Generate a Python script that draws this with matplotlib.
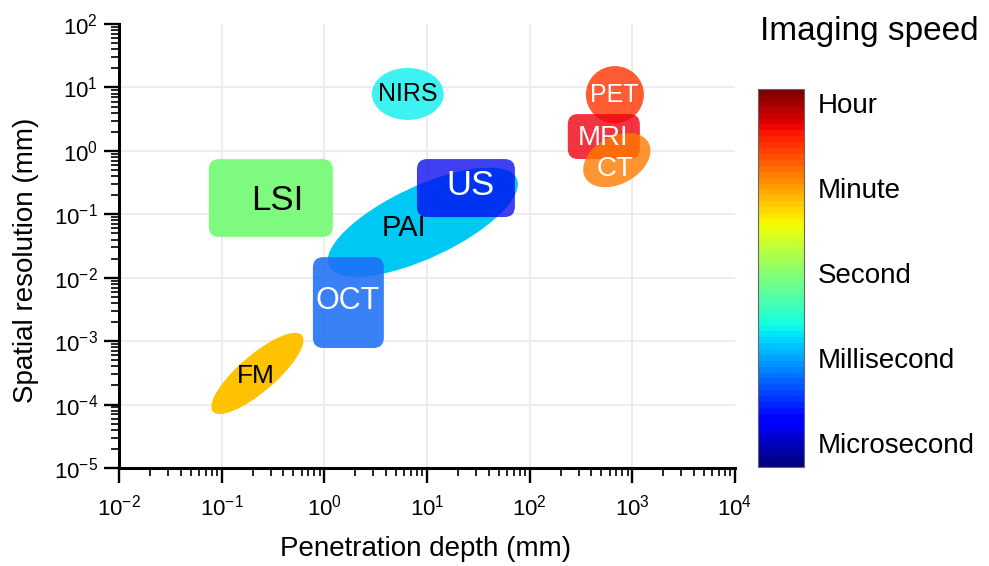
import numpy as np
import matplotlib as mpl
import matplotlib.pyplot as plt
from matplotlib.patches import Ellipse, FancyBboxPatch
from matplotlib.ticker import FixedLocator, LogLocator, LogFormatterMathtext, NullFormatter

plt.rcParams['font.family'] = ['Liberation Sans', 'DejaVu Sans']

# rectangular regions: depth range and resolution range (mm)
rect_names = ['LSI', 'OCT', 'US', 'MRI']
rect_depth_lo = [0.075, 0.774, 7.98, 235]
rect_depth_hi = [1.21, 3.8, 71.8, 1183]
rect_res_lo = [0.044, 7.8e-4, 0.0904, 0.743]
rect_res_hi = [0.74, 0.0211, 0.743, 3.8]

# elliptical regions: centre (mm), extent in decades, tilt in decade space
ell_names = ['NIRS', 'PAI', 'FM', 'PET', 'CT']
ell_depth = [6.5, 9.1, 0.223, 676, 706]
ell_res = [7.9, 0.075, 3.1e-4, 7.7, 0.716]
ell_depth_dec = [0.70, 2.33, 1.50, 0.565, 0.91]
ell_res_dec = [0.82, 0.98, 0.44, 0.90, 0.58]
ell_tilt = [0, 42, 57, 0, 64]

# label positions (mm)
label_names = ['LSI', 'NIRS', 'PAI', 'US', 'OCT', 'FM', 'PET', 'MRI', 'CT']
label_depth = [0.345, 6.5, 5.96, 26.7, 1.70, 0.216, 661, 522, 676]
label_res = [0.167, 7.9, 0.0605, 0.289, 4.3e-3, 2.8e-4, 7.6, 1.62, 0.516]

x_decades = [-2, -1, 0, 1, 2, 3, 4]
y_decades = [-5, -4, -3, -2, -1, 0, 1, 2]

speed_levels = [0, 1, 2, 3, 4]
speed_labels = ['Microsecond', 'Millisecond', 'Second', 'Minute', 'Hour']

colors = {'LSI': ('#7EFB7E', 1.0), 'OCT': ('#1E6EF5', 0.88), 'US': ('#0000F0', 0.75),
          'MRI': ('#F00010', 0.8), 'NIRS': ('#3EF2F2', 1.0), 'PAI': ('#00C8F5', 1.0),
          'FM': ('#FFC200', 1.0), 'PET': ('#FF3300', 0.8), 'CT': ('#FF7A00', 0.8)}
text_style = {'LSI': ('black', 25), 'NIRS': ('black', 18), 'PAI': ('black', 21),
              'US': ('white', 25), 'OCT': ('white', 22), 'FM': ('black', 19),
              'PET': ('white', 18), 'MRI': ('white', 20), 'CT': ('white', 20)}
order = ['LSI', 'NIRS', 'PAI', 'OCT', 'US', 'FM', 'PET', 'MRI', 'CT']

fig = plt.figure(figsize=(9.89, 5.66), dpi=100)
ax = fig.add_axes([0.1203, 0.1731, 0.6229, 0.7845])
ax.set_xscale('log')
ax.set_yscale('log')
ax.set_xlim(10.0 ** x_decades[0], 10.0 ** x_decades[-1])
ax.set_ylim(10.0 ** y_decades[0], 10.0 ** y_decades[-1])

# light grid only at the inner decades
for d in x_decades[1:-1]:
    ax.axvline(10.0 ** d, color='#ececec', lw=1.3, zorder=0)
for d in y_decades[1:-1]:
    ax.axhline(10.0 ** d, color='#ececec', lw=1.3, zorder=0)

# patches live in log10 space so ellipses stay ellipses
dec = ax.transLimits + ax.transAxes
z = 2
for name in order:
    col, a = colors[name]
    if name in rect_names:
        i = rect_names.index(name)
        x0, x1 = np.log10(rect_depth_lo[i]), np.log10(rect_depth_hi[i])
        y0, y1 = np.log10(rect_res_lo[i]), np.log10(rect_res_hi[i])
        p = FancyBboxPatch((x0, y0), x1 - x0, y1 - y0,
                           boxstyle='round,pad=0,rounding_size=0.1',
                           mutation_aspect=1.63, transform=dec,
                           fc=col, ec='none', alpha=a, zorder=z)
    else:
        i = ell_names.index(name)
        p = Ellipse((np.log10(ell_depth[i]), np.log10(ell_res[i])),
                    ell_depth_dec[i], ell_res_dec[i], angle=ell_tilt[i],
                    transform=dec, fc=col, ec='none', alpha=a, zorder=z)
    ax.add_patch(p)
    z += 1

for name, x, y in zip(label_names, label_depth, label_res):
    c, fs = text_style[name]
    ax.text(x, y, name, color=c, fontsize=fs, ha='center', va='center', zorder=20)

for s in ['top', 'right']:
    ax.spines[s].set_visible(False)
for s in ['left', 'bottom']:
    ax.spines[s].set_linewidth(2.2)

for axis, decs in [(ax.xaxis, x_decades), (ax.yaxis, y_decades)]:
    axis.set_major_locator(FixedLocator([10.0 ** d for d in decs]))
    axis.set_major_formatter(LogFormatterMathtext())
    axis.set_minor_locator(LogLocator(base=10, subs=np.arange(2, 10), numticks=15))
    axis.set_minor_formatter(NullFormatter())
ax.tick_params(which='major', length=11, width=1.7, labelsize=16, direction='out')
ax.tick_params(which='minor', length=5.5, width=1.2, direction='out')
ax.tick_params(axis='x', which='major', pad=8)
ax.tick_params(axis='y', which='major', pad=4)

ax.set_xlabel('Penetration depth (mm)', fontsize=20, va='center')
ax.xaxis.set_label_coords(0.498, -0.182)
ax.set_ylabel('Spatial resolution (mm)', fontsize=20, va='center')
ax.yaxis.set_label_coords(-0.151, 0.468)

cax = fig.add_axes([0.7664, 0.1749, 0.0465, 0.6678])
norm = mpl.colors.Normalize(vmin=-0.28, vmax=4.16)
sm = mpl.cm.ScalarMappable(norm=norm, cmap=plt.get_cmap('jet', 64))
cb = fig.colorbar(sm, cax=cax, ticks=speed_levels)
cb.ax.set_yticklabels(speed_labels, fontsize=20)
cb.ax.tick_params(length=0, pad=10)
cb.outline.set_edgecolor('#666666')
cb.outline.set_linewidth(0.8)
fig.text(0.768, 0.945, 'Imaging speed', fontsize=24, ha='left', va='center')

fig.savefig('out.png', dpi=100)
